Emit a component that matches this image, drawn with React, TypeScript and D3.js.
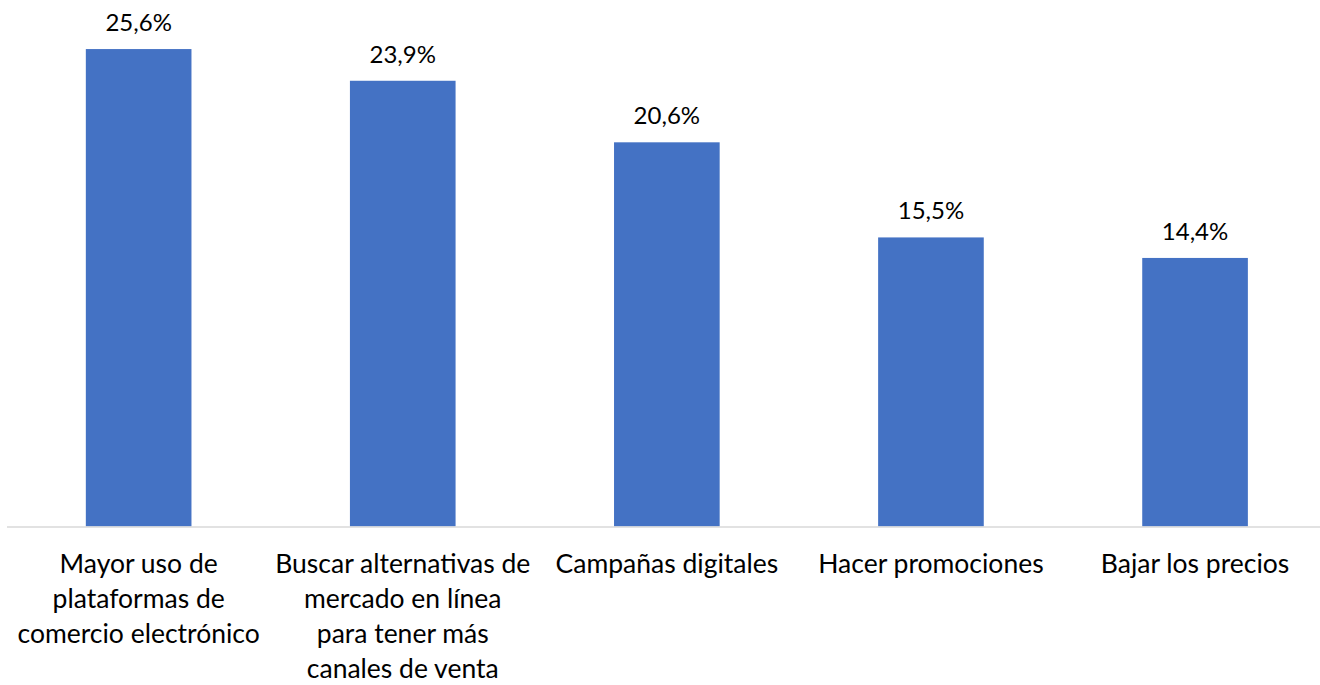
import React from "react";
import * as d3 from "d3";

const categories = [
  "Mayor uso de plataformas de comercio electrónico",
  "Buscar alternativas de mercado en línea para tener más canales de venta",
  "Campañas digitales",
  "Hacer promociones",
  "Bajar los precios",
];
const categoryLines = [
  ["Mayor uso de", "plataformas de", "comercio electrónico"],
  ["Buscar alternativas de", "mercado en línea", "para tener más", "canales de venta"],
  ["Campañas digitales"],
  ["Hacer promociones"],
  ["Bajar los precios"],
];
const values = [25.6, 23.9, 20.6, 15.5, 14.4];
const valueLabels = ["25,6%", "23,9%", "20,6%", "15,5%", "14,4%"];

const W = 1320;
const H = 685;
const FONT = "Lato, 'Open Sans', sans-serif";

export default function App() {
  const x = d3
    .scaleBand<string>()
    .domain(categories)
    .range([6.6, 1327.1])
    .paddingInner(0.6)
    .paddingOuter(0.3);
  const y = d3.scaleLinear().domain([0, 28]).range([526.5, 4.3]);

  return (
    <svg
      width={W}
      height={H}
      style={{ position: "absolute", left: 0, top: 0, display: "block", background: "#fff" }}
    >
      <rect x={0} y={0} width={W} height={H} fill="#fff" />
      {categories.map((c, i) => (
        <rect
          key={c}
          x={x(c)}
          y={y(values[i])}
          width={x.bandwidth()}
          height={y(0) - y(values[i])}
          fill="#4472C4"
        />
      ))}
      <line x1={7} x2={1320} y1={y(0) + 0.5} y2={y(0) + 0.5} stroke="#D9D9D9" strokeWidth={1.5} />
      {categories.map((c, i) => (
        <text
          key={"v" + c}
          x={(x(c) as number) + x.bandwidth() / 2}
          y={y(values[i]) - 18}
          textAnchor="middle"
          fontFamily={FONT}
          fontSize={24}
          fill="#000"
        >
          {valueLabels[i]}
        </text>
      ))}
      {categories.map((c, i) => (
        <text
          key={"c" + c}
          textAnchor="middle"
          fontFamily={FONT}
          fontSize={26.5}
          fill="#000"
        >
          {categoryLines[i].map((l, j) => (
            <tspan key={j} x={(x(c) as number) + x.bandwidth() / 2} y={573 + j * 35}>
              {l}
            </tspan>
          ))}
        </text>
      ))}
    </svg>
  );
}
